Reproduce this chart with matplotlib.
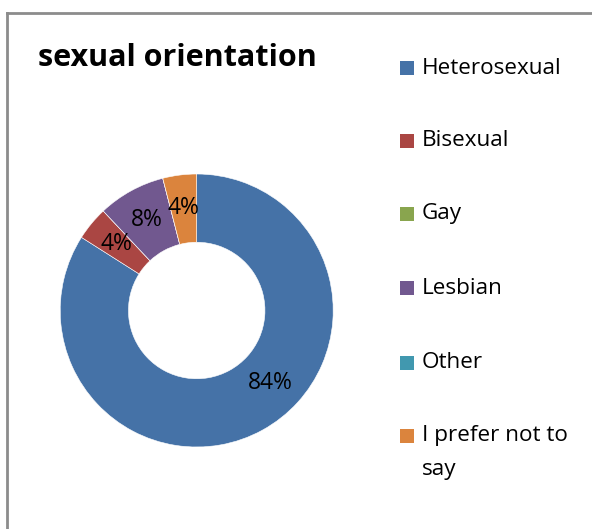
import matplotlib
matplotlib.use("Agg")
import matplotlib.pyplot as plt
import numpy as np
from matplotlib.patches import Rectangle
from matplotlib.lines import Line2D

categories = ["Heterosexual", "Bisexual", "Gay", "Lesbian", "Other", "I prefer not to\nsay"]
values = [84, 4, 0, 8, 0, 4]
colors = ["#4572A7", "#AA4643", "#89A54E", "#71588F", "#4198AF", "#DB843D"]
title = "sexual orientation"

FONT = "Open Sans"
W, H = 592, 529
fig = plt.figure(figsize=(W / 100, H / 100), dpi=100)
fig.patch.set_facecolor("white")

# chart frame (left and top edges)
fig.add_artist(Line2D([6.5 / W, 6.5 / W], [0, 1 - 13 / H], color="#8c8c8c", lw=2))
fig.add_artist(Line2D([6.5 / W, 1], [1 - 13 / H, 1 - 13 / H], color="#8c8c8c", lw=2))

# donut
cx, cy, R = 196.7, 310.5, 136.5
ax = fig.add_axes([(cx - R) / W, (H - cy - R) / H, 2 * R / W, 2 * R / H])
wedges, _ = ax.pie(values, colors=colors, startangle=90, counterclock=False,
                   radius=1.0, wedgeprops=dict(width=0.5, edgecolor="white", linewidth=0.4))
ax.set_xlim(-1, 1)
ax.set_ylim(-1, 1)
ax.set_aspect("auto")
ax.axis("off")

# percentage labels at wedge mid-angles
total = sum(values)
angle = 90.0
for i, v in enumerate(values):
    sweep = 360.0 * v / total
    mid = angle - sweep / 2
    angle -= sweep
    if v == 0:
        continue
    r = 0.76
    if v == max(values):
        mid = -44.6
    x, y = r * np.cos(np.radians(mid)), r * np.sin(np.radians(mid))
    ax.text(x, y, f"{v}%", ha="center", va="center", fontsize=16.5, family=FONT, color="black")

fig.text(38 / W, 1 - 58 / H, title, fontsize=22, fontweight="bold", family=FONT,
         ha="left", va="center", color="black")

# legend
rows = [68, 141, 214, 288, 363, 436]
line_gap = 33
for name, col, yy in zip(categories, colors, rows):
    fig.add_artist(Rectangle((400 / W, 1 - (yy + 7) / H), 14 / W, 14 / H,
                             facecolor=col, edgecolor="none"))
    for k, part in enumerate(name.split("\n")):
        fig.text(422 / W, 1 - (yy + k * line_gap) / H, part, fontsize=16.2, family=FONT,
                 ha="left", va="center", color="black")

fig.savefig("out.png", dpi=100, facecolor="white")
